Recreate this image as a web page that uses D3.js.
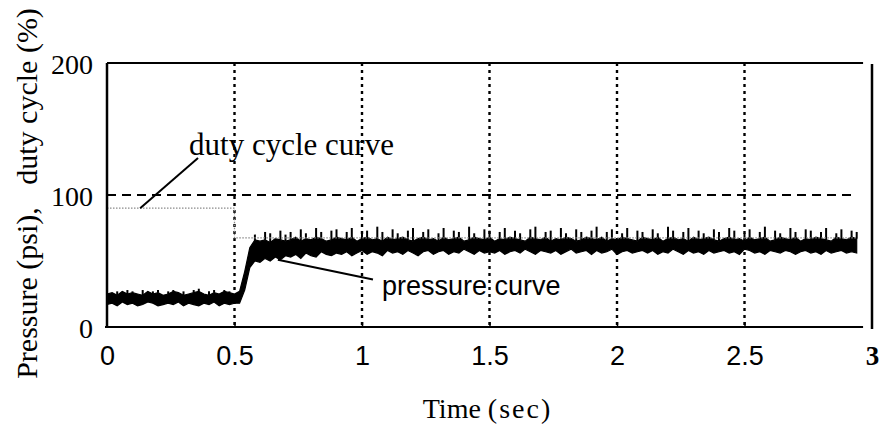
<!DOCTYPE html>
<html>
<head>
<meta charset="utf-8">
<script src="https://cdn.jsdelivr.net/npm/d3@7"></script>
<style>
  html, body { margin: 0; padding: 0; background: #fff; }
  svg { display: block; }
</style>
</head>
<body>
<svg id="chart" width="882" height="427"></svg>
<script>
// ---------------- data ----------------
const xTicks = [0, 0.5, 1, 1.5, 2, 2.5, 3];
const xTickLabels = ["0", "0.5", "1", "1.5", "2", "2.5", "3"];
const yTicks = [0, 100, 200];
const yTickLabels = ["0", "100", "200"];

const sampleStep = 0.02; // seconds between pressure samples

// upper edge of the dense pressure band (psi)
const pressureHigh = [
  25,26,24,27,25,26,25,24,27,25,26,24,25,27,26,24,25,26,27,25,24,26,25,27,26,25,
  27,42,60,66,65,66,64,67,66,65,
  66,68,65,67,66,68,67,65,66,68,
  67,66,68,65,67,68,66,67,65,68,
  66,67,68,66,65,67,68,66,67,65,
  68,66,67,68,65,66,68,67,66,68,
  65,67,66,68,67,66,65,68,67,66,
  68,65,67,66,68,67,65,66,68,67,
  66,68,65,67,66,68,67,66,65,68,
  67,66,68,65,67,68,66,67,65,68,
  66,67,68,66,65,67,68,66,67,65,
  68,66,67,68,65,66,68,67,66,68,
  65,67,66,68,67,66,65,68,67,66,
  68,67
];
// lower edge of the dense pressure band (psi)
const pressureLow = [
  17,18,16,19,17,18,16,17,19,18,16,17,18,17,19,16,18,17,16,18,17,19,16,18,17,18,
  18,28,45,50,49,52,50,53,51,54,
  53,55,52,56,54,53,57,55,54,56,
  55,57,54,56,58,55,57,56,54,58,
  56,57,55,58,56,54,57,58,55,57,
  58,55,57,56,59,57,55,58,56,57,
  56,58,55,57,58,56,59,57,55,58,
  57,56,58,55,57,59,56,57,58,55,
  58,56,57,59,55,57,58,56,57,58,
  56,58,55,57,56,59,57,55,58,56,
  57,55,58,56,57,58,56,57,55,59,
  58,56,57,55,58,57,56,58,57,55,
  57,58,56,57,55,58,56,57,58,56,
  57,56
];
// thin noise spikes above the band (psi), null = no spike
const pressureSpike = [
  28,null,27,null,28,27,null,28,null,27,28,null,27,28,null,27,null,28,29,null,27,28,null,28,27,null,
  null,null,null,70,null,72,71,null,73,70,
  72,null,74,71,null,75,72,null,73,74,
  null,72,75,null,71,73,null,76,72,null,
  74,71,null,73,75,null,72,74,null,71,
  75,null,73,72,null,76,71,null,74,73,
  null,72,75,null,73,71,null,74,76,null,
  72,73,null,75,71,null,74,72,null,73,
  76,null,72,74,null,71,75,null,73,72,
  null,74,71,null,76,73,null,72,75,null,
  73,71,null,74,72,null,75,73,null,71,
  74,null,72,76,null,73,71,null,75,72,
  null,74,73,null,72,75,null,71,74,null,
  73,72
];

// duty cycle (%)
const dutyTime  = [0, 0.5, 0.5, 2.94];
const dutyValue = [90, 90, 67.5, 67.5];

// annotations: leader line from (x1,y1) to (x2,y2), label anchored at (tx,ty)
const annotations = [
  { text: "duty cycle curve", x1: 0.13, y1: 90, x2: 0.357, y2: 128, tx: 0.322, ty: 130, font: "'Liberation Serif','Times New Roman',serif", size: 31 },
  { text: "pressure curve",   x1: 0.67, y1: 51, x2: 1.043, y2: 36, tx: 1.078, ty: 24.5, font: "'Liberation Sans',Arial,sans-serif", size: 27 }
];

// ---------------- drawing ----------------
const svg = d3.select("#chart");
const x = d3.scaleLinear().domain([0, 3]).range([107, 872]);
const y = d3.scaleLinear().domain([0, 200]).range([327, 63]);
const serif = "'Liberation Serif','Times New Roman',serif";
const sans = "'Liberation Sans',Arial,sans-serif";

const pData = pressureHigh.map((h, i) => ({ t: i * sampleStep, hi: h, lo: pressureLow[i], sp: pressureSpike[i] }));

// grid: vertical dotted lines
svg.append("g").selectAll("line")
  .data(xTicks.filter(v => v > 0 && v < 3))
  .join("line")
  .attr("x1", d => x(d)).attr("x2", d => x(d))
  .attr("y1", y(200)).attr("y2", y(0))
  .attr("stroke", "#000").attr("stroke-width", 2.4)
  .attr("stroke-dasharray", "3,4");

// grid: horizontal dashed line at 100
svg.append("line")
  .attr("x1", x(0)).attr("x2", x(2.94))
  .attr("y1", y(100)).attr("y2", y(100))
  .attr("stroke", "#000").attr("stroke-width", 2)
  .attr("stroke-dasharray", "9,6");

// pressure band
const area = d3.area().x(d => x(d.t)).y0(d => y(d.lo)).y1(d => y(d.hi)).curve(d3.curveLinear);
svg.append("path").datum(pData).attr("d", area).attr("fill", "#000")
  .attr("stroke", "#000").attr("stroke-width", 1.2);

// spikes
svg.append("g").selectAll("line")
  .data(pData.filter(d => d.sp !== null))
  .join("line")
  .attr("x1", d => x(d.t)).attr("x2", d => x(d.t))
  .attr("y1", d => y(d.hi)).attr("y2", d => y(d.sp))
  .attr("stroke", "#000").attr("stroke-width", 2);

// duty cycle line (light dotted)
const dutyLine = d3.line().x((d, i) => x(dutyTime[i])).y(d => y(d));
svg.append("path").datum(dutyValue).attr("d", dutyLine)
  .attr("fill", "none").attr("stroke", "#8a8a8a").attr("stroke-width", 1.3)
  .attr("stroke-dasharray", "1.5,1.5");

// frame
const frame = svg.append("g").attr("stroke", "#000").attr("fill", "none");
frame.append("line").attr("x1", x(0)).attr("x2", x(2.965)).attr("y1", y(200)).attr("y2", y(200)).attr("stroke-width", 2);
frame.append("line").attr("x1", x(0) - 2).attr("x2", x(2.965)).attr("y1", y(0)).attr("y2", y(0)).attr("stroke-width", 2.2);
frame.append("line").attr("x1", x(0)).attr("x2", x(0)).attr("y1", y(200)).attr("y2", y(0)).attr("stroke-width", 2.5);
frame.append("line").attr("x1", x(3)).attr("x2", x(3)).attr("y1", y(200) + 1).attr("y2", y(0) + 2).attr("stroke-width", 2.5);

// x axis (ticks + labels)
const xAxis = d3.axisBottom(x).tickValues(xTicks).tickSize(-5)
  .tickFormat((d, i) => xTickLabels[i]);
const gx = svg.append("g").attr("transform", `translate(0,${y(0)})`).call(xAxis);
gx.select(".domain").remove();
gx.selectAll(".tick line").attr("stroke", "#000").attr("stroke-width", 1.5)
  .attr("display", d => (d > 0 && d < 3) ? null : "none");
gx.selectAll(".tick text")
  .attr("y", 38).attr("dy", 0)
  .attr("fill", "#000")
  .style("font-family", d => d === 3 ? serif : sans)
  .style("font-weight", d => d === 3 ? "bold" : "normal")
  .style("font-size", "27px");

// y axis labels
const yAxis = d3.axisLeft(y).tickValues(yTicks).tickSize(0).tickPadding(14)
  .tickFormat((d, i) => yTickLabels[i]);
const gy = svg.append("g").attr("transform", `translate(${x(0)},0)`).call(yAxis);
gy.select(".domain").remove();
gy.selectAll(".tick text").attr("fill", "#000").attr("dy", "0.36em")
  .style("font-family", serif).style("font-size", "28px");

// axis titles
svg.append("text")
  .attr("transform", `translate(37,${(10 + 377) / 2}) rotate(-90)`)
  .attr("text-anchor", "middle")
  .style("font-family", serif).style("font-size", "30px").style("white-space", "pre")
  .text("Pressure (psi),   duty cycle (%)");

const xt = svg.append("text")
  .attr("x", (x(0) + x(3)) / 2 - 2).attr("y", 418)
  .attr("text-anchor", "middle")
  .style("font-family", serif).style("font-size", "28px");
xt.append("tspan").text("Time ");
xt.append("tspan").style("letter-spacing", "2px").text("(sec)");

// annotations
const ann = svg.append("g");
annotations.forEach(a => {
  ann.append("line")
    .attr("x1", x(a.x1)).attr("y1", y(a.y1))
    .attr("x2", x(a.x2)).attr("y2", y(a.y2))
    .attr("stroke", "#000").attr("stroke-width", 2);
  ann.append("text")
    .attr("x", x(a.tx)).attr("y", y(a.ty))
    .style("font-family", a.font).style("font-size", a.size + "px")
    .attr("fill", "#000")
    .text(a.text);
});
</script>
</body>
</html>
